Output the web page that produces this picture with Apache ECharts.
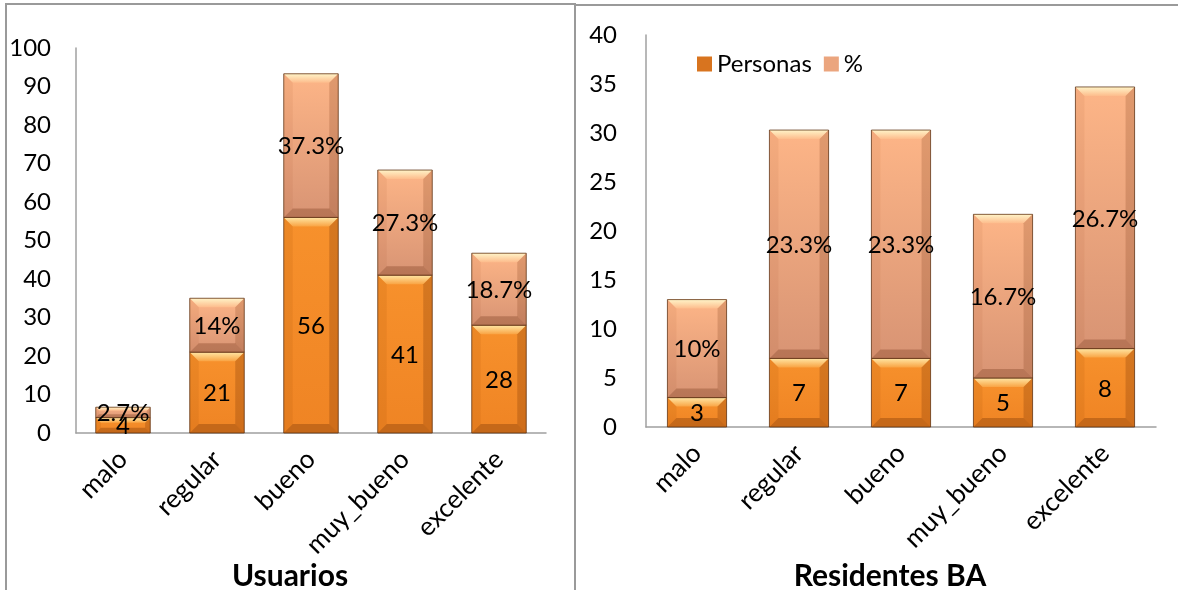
<!DOCTYPE html>
<html>
<head>
<meta charset="utf-8">
<script src="https://cdn.jsdelivr.net/npm/echarts@6/dist/echarts.min.js"></script>
<style>
html,body{margin:0;padding:0;background:#fff;}
#c{width:1178px;height:590px;}
</style>
</head>
<body>
<div id="c"></div>
<script>
const categories = ['malo', 'regular', 'bueno', 'muy_bueno', 'excelente'];
const usuariosPersonas = [4, 21, 56, 41, 28];
const usuariosPct = [2.7, 14, 37.3, 27.3, 18.7];
const residentesPersonas = [3, 7, 7, 5, 8];
const residentesPct = [10, 23.3, 23.3, 16.7, 26.7];
const usuariosAxis = { max: 100, interval: 10 };
const residentesAxis = { max: 40, interval: 5 };
const seriesNames = ['Personas', '%'];
const titles = ['Usuarios', 'Residentes BA'];

const FONT = 'Lato, "Open Sans", sans-serif';

function stackData(base, top) {
  const a = base.map((v, i) => [i, 0, v]);
  const b = top.map((v, i) => [i, base[i], base[i] + v]);
  return [a, b];
}

const palettes = {
  Personas: {
    body: ['#F7912C', '#EF8424'],
    top: ['#FFE6A4', '#F9A444'],
    left: 'rgba(160,70,0,0.12)',
    right: 'rgba(110,45,0,0.25)',
    bottom: 'rgba(100,40,0,0.30)',
    legend: '#D8741F'
  },
  '%': {
    body: ['#FDB587', '#D89474'],
    top: ['#FFF4C8', '#FDBC8C'],
    left: 'rgba(150,70,30,0.08)',
    right: 'rgba(110,45,10,0.20)',
    bottom: 'rgba(100,40,10,0.28)',
    legend: '#EBA57E'
  }
};

function makeRender(name, values) {
  const p = palettes[name];
  return function (params, api) {
    const i = api.value(0), lo = api.value(1), hi = api.value(2);
    const a = api.coord([i, lo]);
    const b = api.coord([i, hi]);
    const bw = api.size([1, 0])[0] * 0.58;
    const x0 = a[0] - bw / 2, x1 = a[0] + bw / 2;
    const yb = a[1], yt = b[1];
    const h = yb - yt;
    const bv = Math.min(9, h / 3);
    const v = values[params.dataIndex];
    const text = name === 'Personas' ? String(v) : v + '%';
    return {
      type: 'group',
      children: [
        { type: 'rect', shape: { x: x0, y: yt, width: bw, height: h },
          style: { fill: new echarts.graphic.LinearGradient(0, 0, 0, 1, [{ offset: 0, color: p.body[0] }, { offset: 1, color: p.body[1] }]) } },
        { type: 'polygon', shape: { points: [[x0, yt], [x1, yt], [x1 - bv, yt + bv], [x0 + bv, yt + bv]] },
          style: { fill: new echarts.graphic.LinearGradient(0, 0, 0, 1, [{ offset: 0, color: p.top[0] }, { offset: 1, color: p.top[1] }]) } },
        { type: 'polygon', shape: { points: [[x0, yt], [x0 + bv, yt + bv], [x0 + bv, yb - bv], [x0, yb]] },
          style: { fill: p.left } },
        { type: 'polygon', shape: { points: [[x1, yt], [x1 - bv, yt + bv], [x1 - bv, yb - bv], [x1, yb]] },
          style: { fill: p.right } },
        { type: 'polygon', shape: { points: [[x0, yb], [x1, yb], [x1 - bv, yb - bv], [x0 + bv, yb - bv]] },
          style: { fill: p.bottom } },
        { type: 'rect', shape: { x: x0, y: yt, width: bw, height: h },
          style: { fill: 'none', stroke: 'rgba(90,45,15,0.75)', lineWidth: 1 } },
        { type: 'text', z2: 100,
          style: { text: text, x: a[0], y: (yt + yb) / 2 + 1, align: 'center', verticalAlign: 'middle',
                   textAlign: 'center', textVerticalAlign: 'middle',
                   fontSize: 24, fontFamily: FONT, fill: '#000' } }
      ]
    };
  };
}

const [uA, uB] = stackData(usuariosPersonas, usuariosPct);
const [rA, rB] = stackData(residentesPersonas, residentesPct);

function xAxisCfg(gridIndex, margin) {
  return {
    type: 'category', gridIndex, data: categories,
    axisLine: { lineStyle: { color: '#A0A0A0', width: 1.5 } },
    axisTick: { show: false },
    axisLabel: { rotate: 45, fontSize: 26, fontFamily: FONT, color: '#000', margin: margin, interval: 0 }
  };
}
function yAxisCfg(gridIndex, cfg, margin) {
  return {
    type: 'value', gridIndex, min: 0, max: cfg.max, interval: cfg.interval,
    axisLine: { show: true, lineStyle: { color: '#A0A0A0', width: 1.5 } },
    axisTick: { show: false },
    splitLine: { show: false },
    axisLabel: { fontSize: 24, fontFamily: FONT, color: '#000', margin: margin }
  };
}

function customSeries(name, data, values, idx) {
  return {
    type: 'custom', name, xAxisIndex: idx, yAxisIndex: idx,
    data, renderItem: makeRender(name, values),
    encode: { x: 0, y: [1, 2] },
    itemStyle: { color: palettes[name].legend },
    silent: true
  };
}

const chart = echarts.init(document.getElementById('c'), null, { renderer: 'canvas' });
chart.setOption({
  animation: false,
  backgroundColor: '#fff',
  grid: [
    { left: 76, top: 48, width: 470, height: 385 },
    { left: 646, top: 35, width: 510, height: 392 }
  ],
  xAxis: [xAxisCfg(0, 22), xAxisCfg(1, 22)],
  yAxis: [yAxisCfg(0, usuariosAxis, 25), yAxisCfg(1, residentesAxis, 29)],
  legend: {
    left: 692, top: 47,
    data: [
      { name: seriesNames[0], itemStyle: { color: palettes.Personas.legend } },
      { name: seriesNames[1], itemStyle: { color: palettes['%'].legend } }
    ],
    icon: 'rect', itemWidth: 15, itemHeight: 15, itemGap: 12, itemTextGap: 5,
    textStyle: { fontSize: 24, fontFamily: FONT, color: '#000' },
    selectedMode: false
  },
  series: [
    customSeries(seriesNames[0], uA, usuariosPersonas, 0),
    customSeries(seriesNames[1], uB, usuariosPct, 0),
    customSeries(seriesNames[0], rA, residentesPersonas, 1),
    customSeries(seriesNames[1], rB, residentesPct, 1)
  ],
  graphic: [
    { type: 'polyline', shape: { points: [[6, 600], [6, 4], [575, 4], [575, 600]] },
      style: { stroke: '#9A9A9A', lineWidth: 2, fill: 'none' } },
    { type: 'polyline', shape: { points: [[575, 5], [1190, 5]] },
      style: { stroke: '#9A9A9A', lineWidth: 2, fill: 'none' } },
    { type: 'text', x: 290, y: 576,
      style: { text: titles[0], align: 'center', verticalAlign: 'middle', textAlign: 'center', textVerticalAlign: 'middle',
               fontSize: 30, fontWeight: 'bold', fontFamily: FONT, fill: '#000' } },
    { type: 'text', x: 890, y: 576,
      style: { text: titles[1], align: 'center', verticalAlign: 'middle', textAlign: 'center', textVerticalAlign: 'middle',
               fontSize: 30, fontWeight: 'bold', fontFamily: FONT, fill: '#000' } }
  ]
});
</script>
</body>
</html>
